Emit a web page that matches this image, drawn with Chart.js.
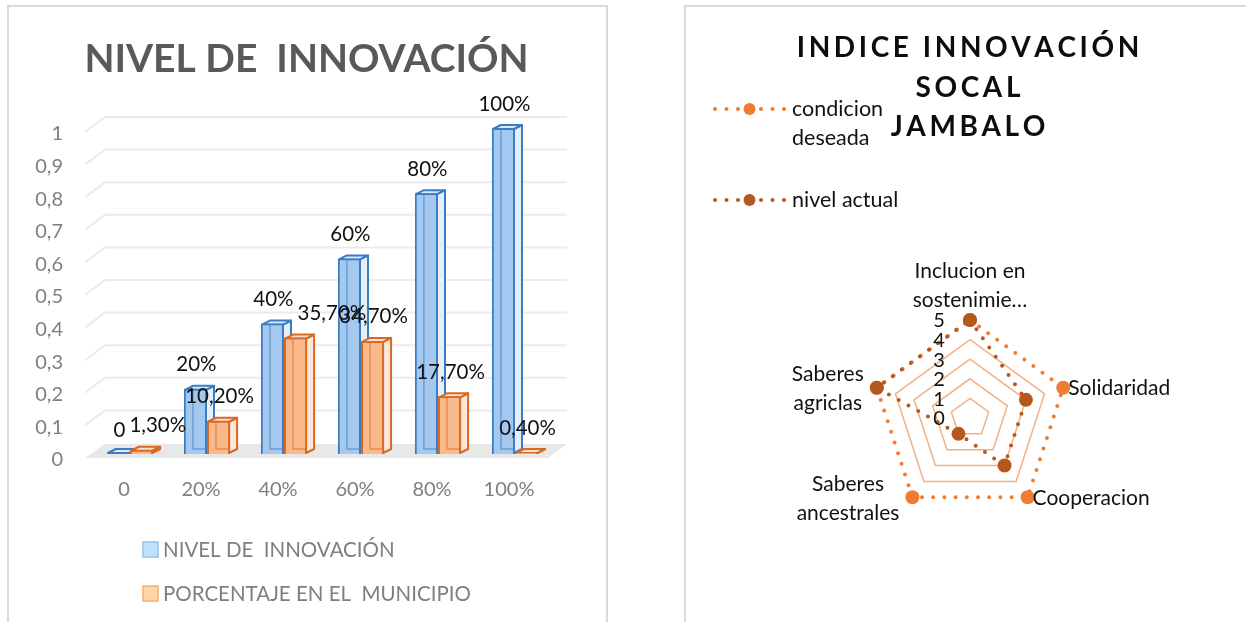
<!DOCTYPE html>
<html>
<head>
<meta charset="utf-8">
<script src="https://cdn.jsdelivr.net/npm/chart.js@4.4.0/dist/chart.umd.min.js"></script>
<style>
  html, body { margin: 0; padding: 0; background: #fff; width: 1246px; height: 622px; overflow: hidden; }
  canvas { position: absolute; top: 0; }
  #barCanvas { left: 0; }
  #radarCanvas { left: 640px; }
  .panel { position: absolute; border: 2px solid #d9d9d9; box-sizing: border-box; pointer-events: none; }
  #panelLeft { left: 7px; top: 5px; width: 601px; height: 660px; }
  #panelRight { left: 684px; top: 5px; width: 620px; height: 660px; }
</style>
</head>
<body>
<canvas id="barCanvas" width="613" height="622"></canvas>
<canvas id="radarCanvas" width="606" height="622"></canvas>
<div class="panel" id="panelLeft"></div>
<div class="panel" id="panelRight"></div>

<script>
// ---- Bar chart data: innovation level vs. share of the municipality ----
const categories = ['0', '20%', '40%', '60%', '80%', '100%'];
const nivelInnovacion = [0, 0.2, 0.4, 0.6, 0.8, 1];
const porcentajeMunicipio = [0.013, 0.102, 0.357, 0.347, 0.177, 0.004];
const barSeriesNames = ['NIVEL DE  INNOVACIÓN', 'PORCENTAJE EN EL  MUNICIPIO'];
const barTitle = 'NIVEL DE  INNOVACIÓN';

// ---- Radar chart data: social innovation index ----
const radarAxes = [['Inclucion en', 'sostenimie…'], 'Solidaridad', 'Cooperacion', ['Saberes', 'ancestrales'], ['Saberes', 'agriclas']];
const condicionDeseada = [5, 5, 5, 5, 5];
const nivelActual = [5, 3, 3, 1, 5];
const radarSeriesNames = ['condicion deseada', 'nivel actual'];
const radarTitle = ['INDICE INNOVACIÓN', 'SOCAL', 'JAMBALO'];

// value label formats for the two bar series
const valueFormats = [
  v => v === 0 ? '0' : Math.round(v * 100) + '%',
  v => (v * 100).toFixed(2).replace('.', ',') + '%'
];

const FONT = 'Lato, "Open Sans", sans-serif';
const DX = 8, DY = 4;   // depth of the pseudo-3D boxes

function barBox(bar) {
  const p = bar.getProps(['x', 'y', 'base', 'width'], true);
  return { l: p.x - p.width / 2 + 1, r: p.x + p.width / 2 - 1, top: Math.min(p.y + 1, p.base - 1), base: p.base - 1, x: p.x, y: p.y };
}

const depthPlugin = {
  id: 'depthPlugin',
  beforeDatasetsDraw(chart) {
    const { ctx, chartArea: a, scales: { y } } = chart;
    const y0 = y.getPixelForValue(0);
    ctx.save();
    // floor
    ctx.fillStyle = '#e8e8e8';
    ctx.beginPath();
    ctx.moveTo(a.left - 6.5, y0 + 4);
    ctx.lineTo(a.right - 5.5, y0 + 4);
    ctx.lineTo(a.right + 13.5, y0 - 10);
    ctx.lineTo(a.left + 13.5, y0 - 10);
    ctx.closePath();
    ctx.fill();
    // back wall grid lines with their slanted side-wall part
    ctx.strokeStyle = '#ebebeb';
    ctx.lineWidth = 2;
    y.ticks.forEach(t => {
      if (t.value === 0) return;
      const py = y.getPixelForValue(t.value);
      ctx.beginPath();
      ctx.moveTo(a.left - 6.5, py + 4);
      ctx.lineTo(a.left + 13.5, py - 11);
      ctx.lineTo(a.right + 13.5, py - 11);
      ctx.stroke();
    });
    // side and top faces of each box
    chart.data.datasets.forEach((ds, di) => {
      chart.getDatasetMeta(di).data.forEach(bar => {
        const b = barBox(bar);
        ctx.lineWidth = 2;
        ctx.lineJoin = 'round';
        ctx.strokeStyle = ds.borderColor;
        ctx.fillStyle = ds.sideColor;
        ctx.beginPath();
        ctx.moveTo(b.r, b.top);
        ctx.lineTo(b.r + DX, b.top - DY);
        ctx.lineTo(b.r + DX, b.base - DY);
        ctx.lineTo(b.r, b.base);
        ctx.closePath();
        ctx.fill();
        ctx.stroke();
        ctx.fillStyle = ds.topColor;
        ctx.beginPath();
        ctx.moveTo(b.l, b.top);
        ctx.lineTo(b.l + DX, b.top - DY);
        ctx.lineTo(b.r + DX, b.top - DY);
        ctx.lineTo(b.r, b.top);
        ctx.closePath();
        ctx.fill();
        ctx.stroke();
      });
    });
    ctx.restore();
  },
  afterDatasetsDraw(chart) {
    const { ctx } = chart;
    ctx.save();
    // hidden back edges seen through the front faces
    chart.data.datasets.forEach((ds, di) => {
      chart.getDatasetMeta(di).data.forEach(bar => {
        const b = barBox(bar);
        if (b.base - b.top < 3) return;
        ctx.save();
        ctx.beginPath();
        ctx.rect(b.l, b.top, b.r - b.l, b.base - b.top);
        ctx.clip();
        ctx.strokeStyle = ds.edgeColor;
        ctx.lineWidth = 1.5;
        ctx.beginPath();
        ctx.moveTo(b.l + DX, b.top);
        ctx.lineTo(b.l + DX, b.base - DY);
        ctx.lineTo(b.r, b.base - DY);
        ctx.stroke();
        ctx.restore();
      });
    });
    // value labels; a label that would collide with its neighbour is pushed right
    ctx.font = '20.5px ' + FONT;
    ctx.fillStyle = '#111';
    ctx.textAlign = 'center';
    ctx.textBaseline = 'middle';
    categories.forEach((c, i) => {
      const placed = [];
      chart.data.datasets.forEach((ds, di) => {
        const bar = chart.getDatasetMeta(di).data[i];
        const text = valueFormats[di](ds.data[i]);
        const w = ctx.measureText(text).width;
        let cx = bar.x + 1;
        const cy = bar.y - 24;
        placed.forEach(p => {
          if (Math.abs(cy - p.cy) < 20 && cx - w / 2 < p.right + 4) cx = p.right + 4 + w / 2;
        });
        ctx.fillText(text, cx, cy);
        placed.push({ cy, right: cx + w / 2 });
      });
    });
    ctx.restore();
  },
  afterDraw(chart) {
    const { ctx } = chart;
    ctx.save();
    // title
    ctx.font = 'bold 39px ' + FONT;
    ctx.fillStyle = '#595959';
    ctx.textAlign = 'center';
    ctx.textBaseline = 'alphabetic';
    ctx.fillText(barTitle, 306.5, 72);
    // legend, one entry per row
    ctx.font = '20.5px ' + FONT;
    ctx.textAlign = 'left';
    ctx.textBaseline = 'middle';
    chart.data.datasets.forEach((ds, di) => {
      const cy = 549 + di * 44;
      ctx.fillStyle = ds.legendFill;
      ctx.strokeStyle = ds.legendBorder;
      ctx.lineWidth = 1.5;
      ctx.fillRect(143, cy - 7, 15, 15);
      ctx.strokeRect(143, cy - 7, 15, 15);
      ctx.fillStyle = '#7f7f7f';
      ctx.fillText(ds.label, 163, cy + 1);
    });
    ctx.restore();
  }
};

new Chart(document.getElementById('barCanvas'), {
  type: 'bar',
  data: {
    labels: categories,
    datasets: [
      {
        label: barSeriesNames[0], data: nivelInnovacion,
        backgroundColor: '#a4c8ee', borderColor: '#3a7dc5', borderWidth: 2,
        sideColor: '#e6eef8', topColor: '#dce8f5', edgeColor: 'rgba(58,125,197,0.55)',
        legendFill: '#bfe2fa', legendBorder: '#8ec3ee'
      },
      {
        label: barSeriesNames[1], data: porcentajeMunicipio,
        backgroundColor: '#f9b98b', borderColor: '#d8691f', borderWidth: 2,
        sideColor: '#fae6da', topColor: '#f9e2d4', edgeColor: 'rgba(216,105,31,0.55)',
        legendFill: '#fdd5a6', legendBorder: '#f5ae76'
      }
    ]
  },
  options: {
    responsive: false,
    animation: false,
    events: [],
    barPercentage: 1,
    categoryPercentage: 0.6,
    layout: { padding: { left: 0, right: 59.5, top: 128, bottom: 98 } },
    plugins: { legend: { display: false }, title: { display: false }, tooltip: { enabled: false } },
    scales: {
      x: {
        grid: { display: false, drawTicks: false },
        border: { display: false },
        ticks: { font: { family: FONT, size: 20 }, color: '#7f7f7f', padding: 24, labelOffset: -6, maxRotation: 0 },
        afterFit(scale) { scale.height = 70; }
      },
      y: {
        min: 0, max: 1,
        grid: { display: false, drawTicks: false },
        border: { display: false },
        ticks: {
          stepSize: 0.1,
          font: { family: FONT, size: 20 }, color: '#7f7f7f', padding: 28.5, labelOffset: 6,
          callback: v => String(Math.round(v * 10) / 10).replace('.', ',')
        },
        afterFit(scale) { scale.width = 91.5; }
      }
    }
  },
  plugins: [depthPlugin]
});

// ---- Radar chart ----
function spacedText(ctx, text, cx, y, spacing) {
  const chars = [...text];
  const ws = chars.map(ch => ctx.measureText(ch).width);
  const total = ws.reduce((s, w) => s + w, 0) + spacing * (chars.length - 1);
  let x = cx - total / 2;
  ctx.textAlign = 'left';
  chars.forEach((ch, k) => { ctx.fillText(ch, x, y); x += ws[k] + spacing; });
}

function wrapWords(ctx, text, maxW) {
  const words = text.split(' ');
  const lines = [];
  let cur = '';
  words.forEach(w => {
    const test = cur ? cur + ' ' + w : w;
    if (cur && ctx.measureText(test).width > maxW) { lines.push(cur); cur = w; } else cur = test;
  });
  if (cur) lines.push(cur);
  return lines;
}

const radarDecor = {
  id: 'radarDecor',
  afterDatasetsDraw(chart) {
    const { ctx } = chart;
    const r = chart.scales.r;
    ctx.save();
    ctx.fillStyle = '#111';
    // tick labels along the vertical axis
    ctx.font = '20px ' + FONT;
    ctx.textAlign = 'center';
    ctx.textBaseline = 'middle';
    r.ticks.forEach(t => {
      const d = r.getDistanceFromCenterForValue(t.value);
      ctx.fillText(String(t.value), r.xCenter - 31, r.yCenter - d + 1);
    });
    // axis names around the web
    ctx.font = '21px ' + FONT;
    const lh = 29;
    radarAxes.forEach((lab, i) => {
      const lines = Array.isArray(lab) ? lab : [lab];
      const ang = r.getIndexAngle(i);
      const s = Math.sin(ang);
      const v = r.getPointPosition(i, r.drawingArea);
      const w = Math.max(...lines.map(t => ctx.measureText(t).width));
      const h = lines.length * lh;
      let left, top;
      if (Math.abs(s) < 0.1) { left = v.x - w / 2; top = v.y - 5 - h; }
      else if (s > 0) { left = v.x + 5; top = v.y + 1 - h / 2; }
      else { left = v.x - 13 - w; top = v.y + 1 - h / 2; }
      ctx.textAlign = 'center';
      lines.forEach((t, k) => ctx.fillText(t, left + w / 2, top + lh * k + lh / 2));
    });
    ctx.restore();
  },
  afterDraw(chart) {
    const { ctx } = chart;
    ctx.save();
    // title, letter-spaced
    ctx.font = 'bold 28px ' + FONT;
    ctx.fillStyle = '#0d0d0d';
    ctx.textBaseline = 'alphabetic';
    radarTitle.forEach((line, k) => spacedText(ctx, line, 328, 57 + k * 39.5, 3.6));
    // legend
    ctx.font = '21.5px ' + FONT;
    ctx.textBaseline = 'middle';
    const rows = [109, 200];
    chart.data.datasets.forEach((ds, di) => {
      const cy = rows[di];
      ctx.fillStyle = ds.borderColor;
      for (let k = 0; k < 7; k++) {
        const x = 75 + k * 11.5;
        ctx.beginPath();
        ctx.arc(x, cy, k === 3 ? 6 : 2, 0, Math.PI * 2);
        ctx.fill();
      }
      ctx.fillStyle = '#111';
      ctx.textAlign = 'left';
      wrapWords(ctx, ds.label, 120).forEach((t, k) => ctx.fillText(t, 152, cy + k * 29));
    });
    ctx.restore();
  }
};

new Chart(document.getElementById('radarCanvas'), {
  type: 'radar',
  data: {
    labels: radarAxes,
    datasets: [
      {
        label: radarSeriesNames[0], data: condicionDeseada, order: 1,
        borderColor: '#ed7d31', backgroundColor: 'rgba(0,0,0,0)', fill: false,
        borderWidth: 4, borderDash: [0, 11.2], borderCapStyle: 'round',
        pointRadius: 7, pointBackgroundColor: '#ed7d31', pointBorderColor: '#ed7d31', pointBorderWidth: 0
      },
      {
        label: radarSeriesNames[1], data: nivelActual, order: 0,
        borderColor: '#b5581e', backgroundColor: 'rgba(0,0,0,0)', fill: false,
        borderWidth: 4, borderDash: [0, 11.2], borderCapStyle: 'round',
        pointRadius: 7, pointBackgroundColor: '#b5581e', pointBorderColor: '#b5581e', pointBorderWidth: 0
      }
    ]
  },
  options: {
    responsive: false,
    animation: false,
    events: [],
    layout: { padding: { left: 232, right: 178, top: 320, bottom: 106 } },
    plugins: { legend: { display: false }, title: { display: false }, tooltip: { enabled: false } },
    scales: {
      r: {
        min: 0, max: 5,
        ticks: { stepSize: 1, display: false },
        pointLabels: { display: false },
        angleLines: { display: false },
        grid: {
          lineWidth: 1.5,
          color: ctx => (ctx.tick && ctx.tick.value >= 5) ? 'rgba(0,0,0,0)' : '#f4b183'
        }
      }
    }
  },
  plugins: [radarDecor]
});
</script>
</body>
</html>
